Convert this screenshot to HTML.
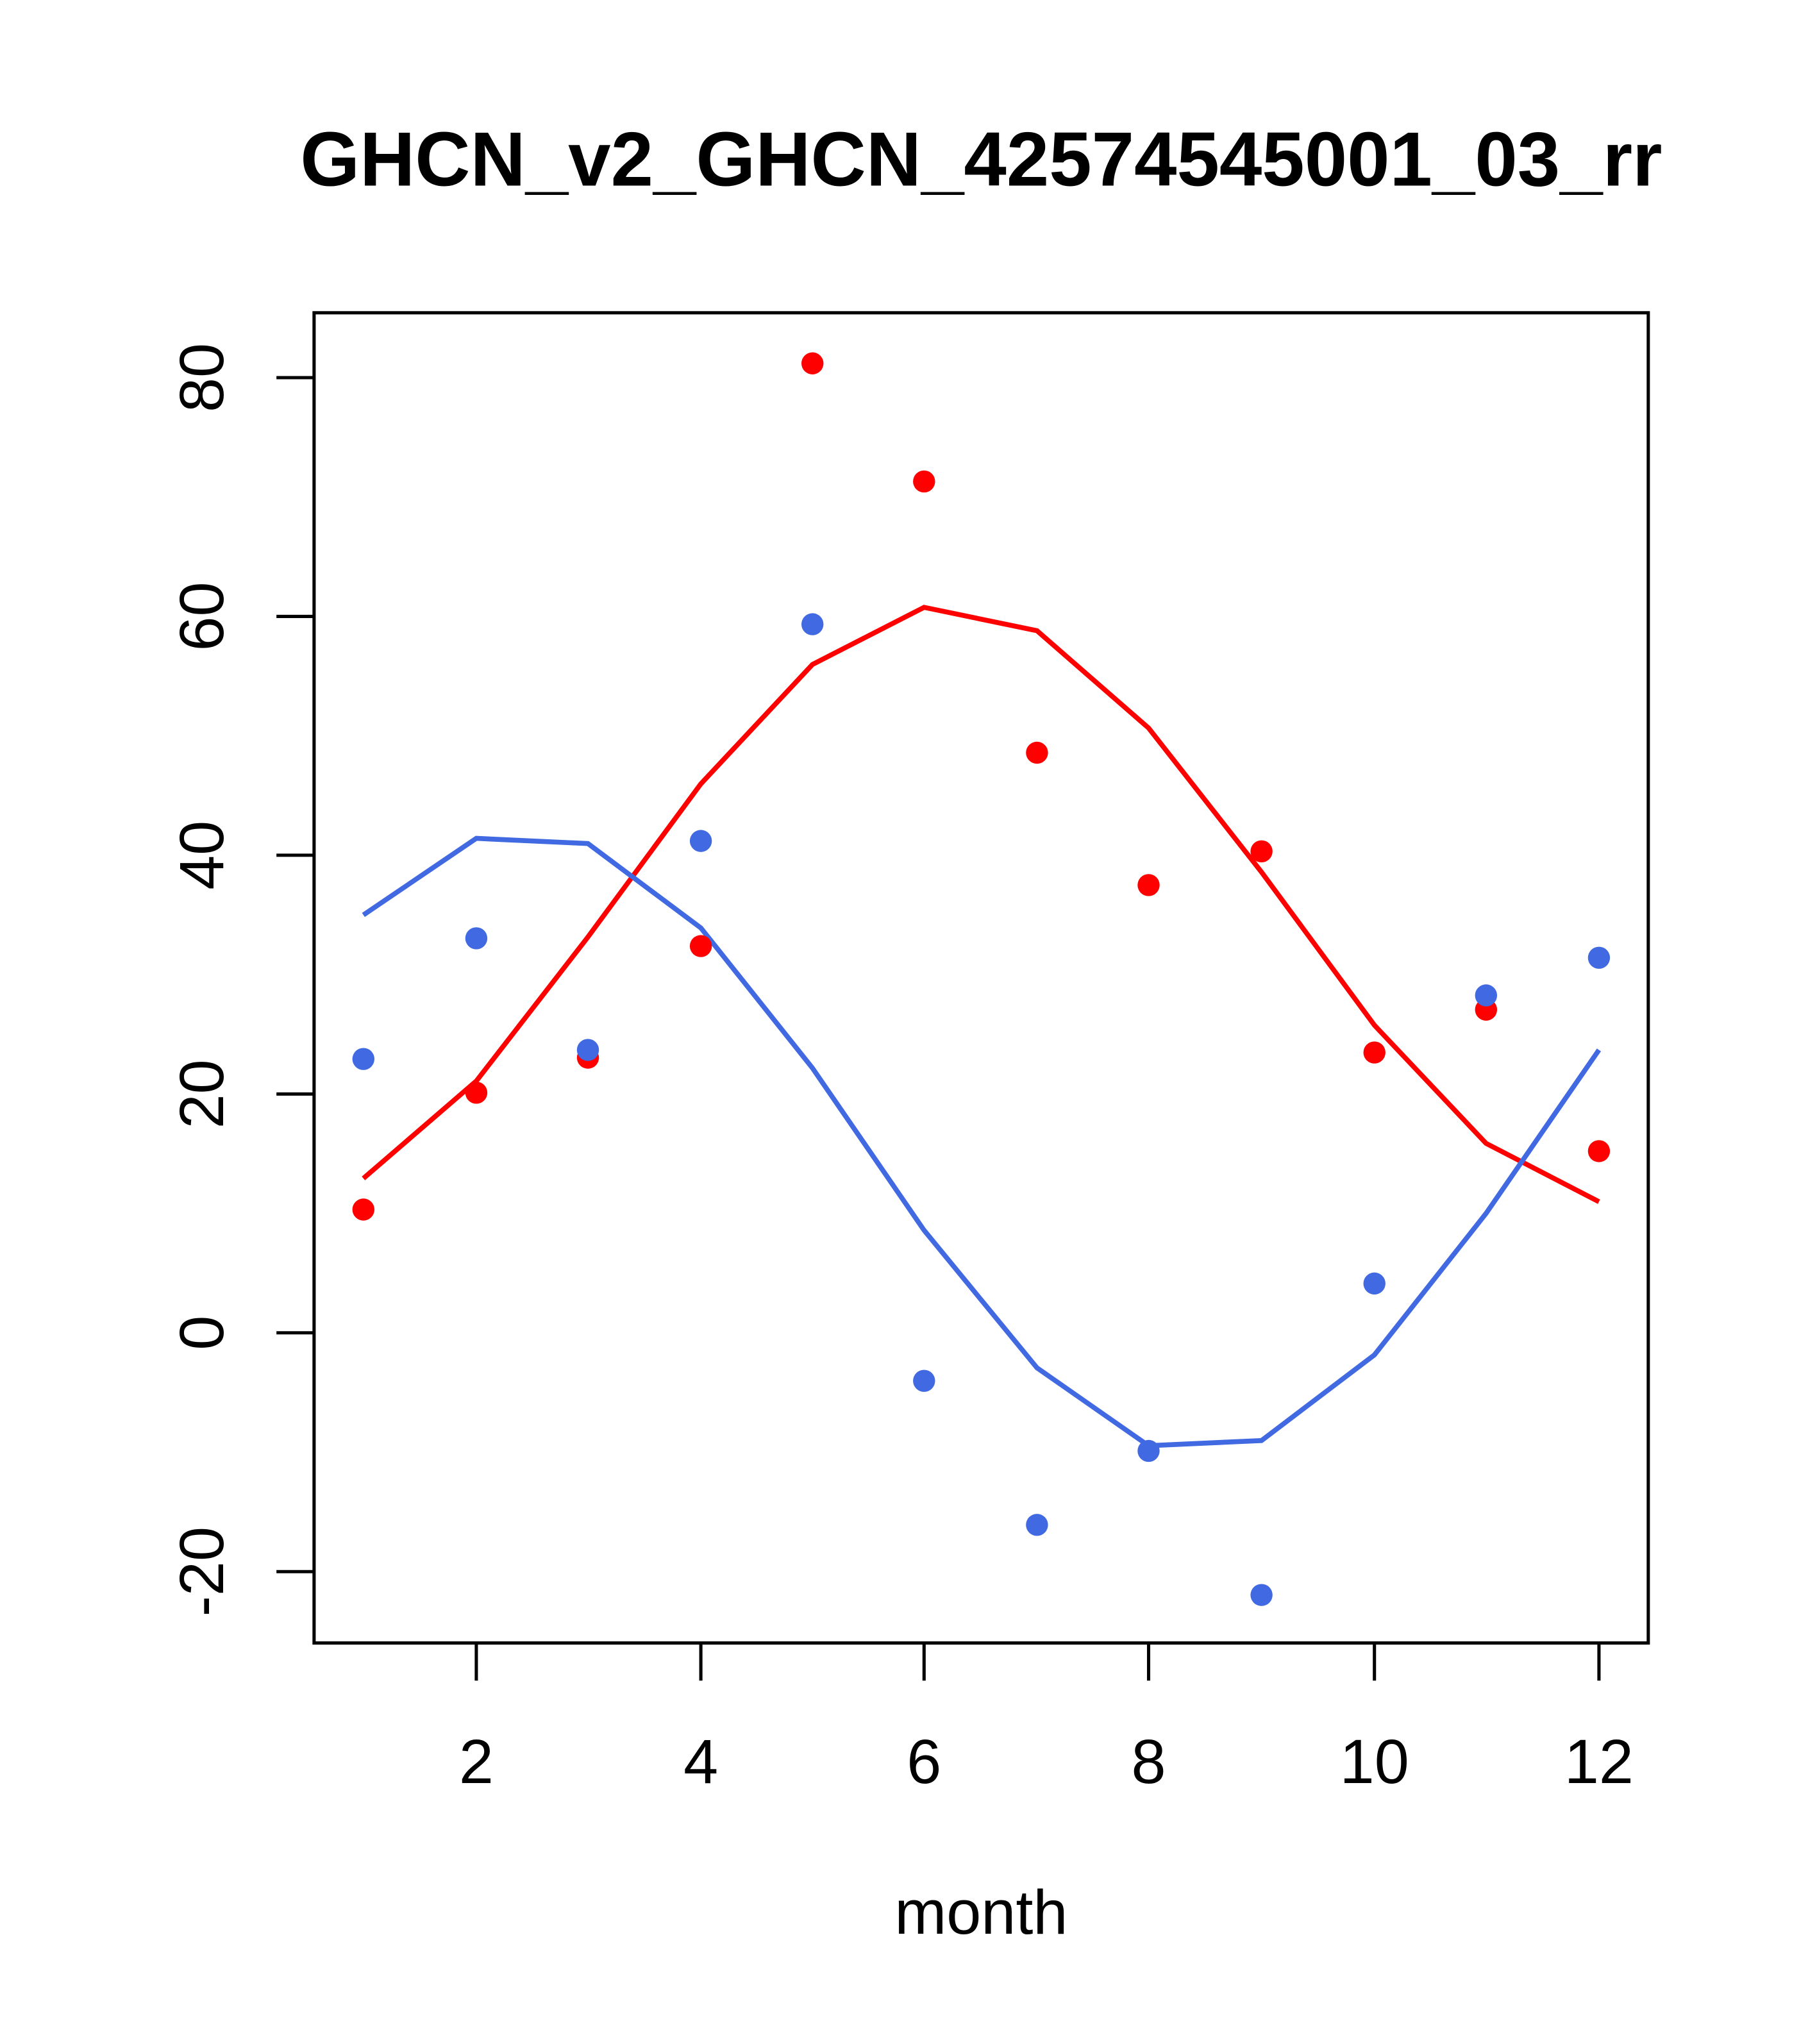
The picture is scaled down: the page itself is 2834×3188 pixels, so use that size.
<!DOCTYPE html>
<html><head><style>html,body{margin:0;padding:0;background:#fff}svg{display:block}</style></head>
<body>
<svg width="2834" height="3188" viewBox="0 0 1400 1575" preserveAspectRatio="none" xmlns="http://www.w3.org/2000/svg" font-family="Liberation Sans, sans-serif">
<rect width="1400" height="1575" fill="#fff"/>
<text x="756" y="143" font-size="59" font-weight="bold" text-anchor="middle">GHCN_v2_GHCN_42574545001_03_rr</text>
<rect x="242" y="241" width="1028" height="1025" fill="none" stroke="#000" stroke-width="2.5"/>
<g stroke="#000" stroke-width="2.5">
<line x1="242" y1="291" x2="213" y2="291"/><line x1="242" y1="475" x2="213" y2="475"/><line x1="242" y1="659" x2="213" y2="659"/><line x1="242" y1="843" x2="213" y2="843"/><line x1="242" y1="1027" x2="213" y2="1027"/><line x1="242" y1="1211" x2="213" y2="1211"/>
<line x1="367" y1="1266" x2="367" y2="1295"/><line x1="540" y1="1266" x2="540" y2="1295"/><line x1="712" y1="1266" x2="712" y2="1295"/><line x1="885" y1="1266" x2="885" y2="1295"/><line x1="1059" y1="1266" x2="1059" y2="1295"/><line x1="1232" y1="1266" x2="1232" y2="1295"/>
</g>
<g font-size="48" text-anchor="middle">
<text transform="translate(172,291) rotate(-90)">80</text>
<text transform="translate(172,475) rotate(-90)">60</text>
<text transform="translate(172,659) rotate(-90)">40</text>
<text transform="translate(172,843) rotate(-90)">20</text>
<text transform="translate(172,1027) rotate(-90)">0</text>
<text transform="translate(172,1211) rotate(-90)">-20</text>
<text x="367" y="1374">2</text><text x="540" y="1374">4</text><text x="712" y="1374">6</text><text x="885" y="1374">8</text><text x="1059" y="1374">10</text><text x="1232" y="1374">12</text>
<text x="756" y="1490">month</text>
</g>
<polyline fill="none" stroke="#ff0000" stroke-width="3.8" points="280,908 367,833 453,722 540,604 626,512 712,468 799,486 885,561 972,672 1059,790 1145,881 1232,926"/>
<polyline fill="none" stroke="#4169e1" stroke-width="3.8" points="280,705 367,646 453,650 540,715 626,823 712,948 799,1054 885,1114 972,1110 1059,1044 1145,935 1232,809"/>
<g fill="#ff0000">
<circle cx="280" cy="932" r="8.5"/><circle cx="367" cy="842" r="8.5"/><circle cx="453" cy="815" r="8.5"/><circle cx="540" cy="729" r="8.5"/><circle cx="626" cy="280" r="8.5"/><circle cx="712" cy="371" r="8.5"/><circle cx="799" cy="580" r="8.5"/><circle cx="885" cy="682" r="8.5"/><circle cx="972" cy="656" r="8.5"/><circle cx="1059" cy="811" r="8.5"/><circle cx="1145" cy="778" r="8.5"/><circle cx="1232" cy="887" r="8.5"/>
</g>
<g fill="#4169e1">
<circle cx="280" cy="816" r="8.5"/><circle cx="367" cy="723" r="8.5"/><circle cx="453" cy="809" r="8.5"/><circle cx="540" cy="648" r="8.5"/><circle cx="626" cy="481" r="8.5"/><circle cx="712" cy="1064" r="8.5"/><circle cx="799" cy="1175" r="8.5"/><circle cx="885" cy="1118" r="8.5"/><circle cx="972" cy="1229" r="8.5"/><circle cx="1059" cy="989" r="8.5"/><circle cx="1145" cy="767" r="8.5"/><circle cx="1232" cy="738" r="8.5"/>
</g>
</svg>
</body></html>
